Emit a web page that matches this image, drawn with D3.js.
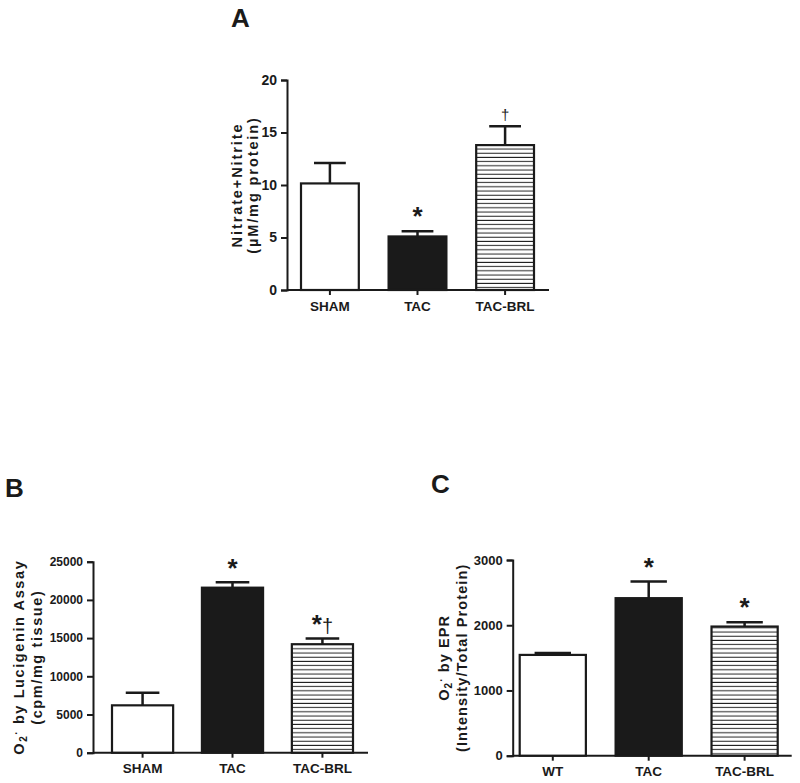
<!DOCTYPE html>
<html>
<head>
<meta charset="utf-8">
<script src="https://cdn.jsdelivr.net/npm/d3@7"></script>
<style>
  body { margin: 0; background: #fff; }
  text { font-family: "Liberation Sans", Arial, sans-serif; font-weight: bold; fill: #1a1a1a; }
</style>
</head>
<body>
<div id="chart"></div>
<script>
// data
var groupsA = ["SHAM", "TAC", "TAC-BRL"]
var meansA = [10.15, 5.1, 13.8]
var errA = [1.95, 0.5, 1.8]
var marksA = ["", "*", "†"]
var ticksA = [0, 5, 10, 15, 20]

var groupsB = ["SHAM", "TAC", "TAC-BRL"]
var meansB = [6200, 21600, 14200]
var errB = [1650, 700, 750]
var marksB = ["", "*", "*†"]
var ticksB = [0, 5000, 10000, 15000, 20000, 25000]

var groupsC = ["WT", "TAC", "TAC-BRL"]
var meansC = [1545, 2415, 1980]
var errC = [30, 255, 65]
var marksC = ["", "*", "*"]
var ticksC = [0, 1000, 2000, 3000]

var fills = ["white", "#1a1a1a", "url(#hatch)"]

var width = 800, height = 783

var svg = d3.select("#chart")
    .append("svg")
    .attr("width", width)
    .attr("height", height)

// horizontal line hatch for the third bar
var pat = svg.append("defs").append("pattern")
    .attr("id", "hatch")
    .attr("patternUnits", "userSpaceOnUse")
    .attr("width", 8).attr("height", 4.2)
pat.append("rect").attr("width", 8).attr("height", 4.2).attr("fill", "white")
pat.append("line").attr("x1", 0).attr("x2", 8).attr("y1", 2).attr("y2", 2)
    .attr("stroke", "#222").attr("stroke-width", 1)

function panel(p) {
    var g = svg.append("g")

    var y = d3.scaleLinear().domain([0, p.max]).range([p.y0, p.y1])
    var x = d3.scaleBand().domain(p.groups)
        .range([p.x0 + p.inL, p.x1 - p.inR])
        .paddingInner(p.pad).paddingOuter(0)

    // y axis
    var ya = g.append("g").attr("transform", "translate(" + p.x0 + ",0)")
        .call(d3.axisLeft(y).tickValues(p.ticks).tickSize(6).tickPadding(4).tickFormat(d3.format("d")))
    ya.select(".domain").attr("stroke", "#1a1a1a").attr("stroke-width", 2)
    ya.selectAll(".tick line").attr("stroke", "#1a1a1a").attr("stroke-width", 2)
    ya.selectAll(".tick text").style("font-size", p.tickSize + "px").attr("fill", "#1a1a1a")

    // x axis, small ticks under each bar
    var xa = g.append("g").attr("transform", "translate(0," + p.y0 + ")")
        .call(d3.axisBottom(x).tickSize(5).tickPadding(6))
    xa.select(".domain").attr("d", "M" + p.x0 + ",0H" + p.x1).attr("stroke", "#1a1a1a").attr("stroke-width", 2)
    xa.selectAll(".tick line").attr("stroke", "#1a1a1a").attr("stroke-width", 2)
    xa.selectAll(".tick text").style("font-size", "13.5px").attr("fill", "#1a1a1a")

    var bw = x.bandwidth()
    var cap = bw * 0.55

    // error bars
    g.selectAll(".eb").data(p.groups).enter().append("path")
        .attr("stroke", "#1a1a1a").attr("stroke-width", 2.5).attr("fill", "none")
        .attr("d", function(d, i) {
            var cx = x(d) + bw / 2
            return "M" + cx + "," + y(p.means[i]) + "V" + y(p.means[i] + p.errs[i]) +
                "M" + (cx - cap / 2) + "," + y(p.means[i] + p.errs[i]) + "H" + (cx + cap / 2)
        })

    // bars
    g.selectAll(".bar").data(p.groups).enter().append("rect")
        .attr("x", function(d) { return x(d) })
        .attr("y", function(d, i) { return y(p.means[i]) })
        .attr("width", bw)
        .attr("height", function(d, i) { return p.y0 - y(p.means[i]) })
        .attr("fill", function(d, i) { return fills[i] })
        .attr("stroke", "#1a1a1a").attr("stroke-width", 2.2)

    // significance marks, asterisk big, dagger thinner
    g.selectAll(".mark").data(p.groups).enter().append("text")
        .attr("x", function(d) { return x(d) + bw / 2 })
        .attr("y", function(d, i) { return y(p.means[i] + p.errs[i]) - p.markGap })
        .attr("text-anchor", "middle")
        .each(function(d, i) {
            var t = d3.select(this)
            p.marks[i].split("").forEach(function(c) {
                t.append("tspan").style("font-size", (c == "*" ? 26 : p.dagSize) + "px")
                    .style("font-weight", c == "*" ? "bold" : "normal").text(c)
            })
        })

    // panel letter
    g.append("text").attr("x", p.lx).attr("y", p.ly).style("font-size", "26px").text(p.letter)

    // y title, two lines, rotated
    var cy = (p.y0 + p.y1) / 2
    var t1 = g.append("text")
        .attr("transform", "translate(" + p.t1x + "," + cy + ") rotate(-90)")
        .attr("text-anchor", "middle").style("font-size", "14.5px").style("letter-spacing", p.ls + "px")
    p.title1(t1)
    g.append("text")
        .attr("transform", "translate(" + p.t2x + "," + cy + ") rotate(-90)")
        .attr("text-anchor", "middle").style("font-size", "14.5px").style("letter-spacing", p.ls + "px")
        .text(p.title2)
}

function o2(t, rest) {
    t.append("tspan").text("O")
    t.append("tspan").attr("baseline-shift", "-30%").style("font-size", "10px").text("2")
    t.append("tspan").attr("baseline-shift", "45%").style("font-size", "10px").text("·")
    t.append("tspan").text(" " + rest)
}

panel({
    groups: groupsA, means: meansA, errs: errA, marks: marksA, ticks: ticksA, max: 20,
    x0: 287, x1: 549, y0: 290, y1: 80, inL: 14, inR: 15, pad: 0.34, tickSize: 14,
    markGap: 6, dagSize: 15, ls: 1.9,
    letter: "A", lx: 231, ly: 27, t1x: 242, t2x: 258,
    title1: function(t) { t.text("Nitrate+Nitrite") }, title2: "(µM/mg protein)"
})

panel({
    groups: groupsB, means: meansB, errs: errB, marks: marksB, ticks: ticksB, max: 25000,
    x0: 93, x1: 368, y0: 752.7, y1: 561.7, inL: 19, inR: 15, pad: 0.32, tickSize: 12,
    markGap: 5, dagSize: 20, ls: 1.6,
    letter: "B", lx: 5, ly: 497, t1x: 24, t2x: 42,
    title1: function(t) { o2(t, "by Lucigenin Assay") }, title2: "(cpm/mg tissue)"
})

panel({
    groups: groupsC, means: meansC, errs: errC, marks: marksC, ticks: ticksC, max: 3000,
    x0: 512.7, x1: 791.7, y0: 755.7, y1: 560, inL: 7, inR: 14, pad: 0.31, tickSize: 13,
    markGap: 6, dagSize: 20, ls: 1.1,
    letter: "C", lx: 431, ly: 493, t1x: 449, t2x: 467,
    title1: function(t) { o2(t, "by EPR") }, title2: "(Intensity/Total Protein)"
})
</script>
</body>
</html>
